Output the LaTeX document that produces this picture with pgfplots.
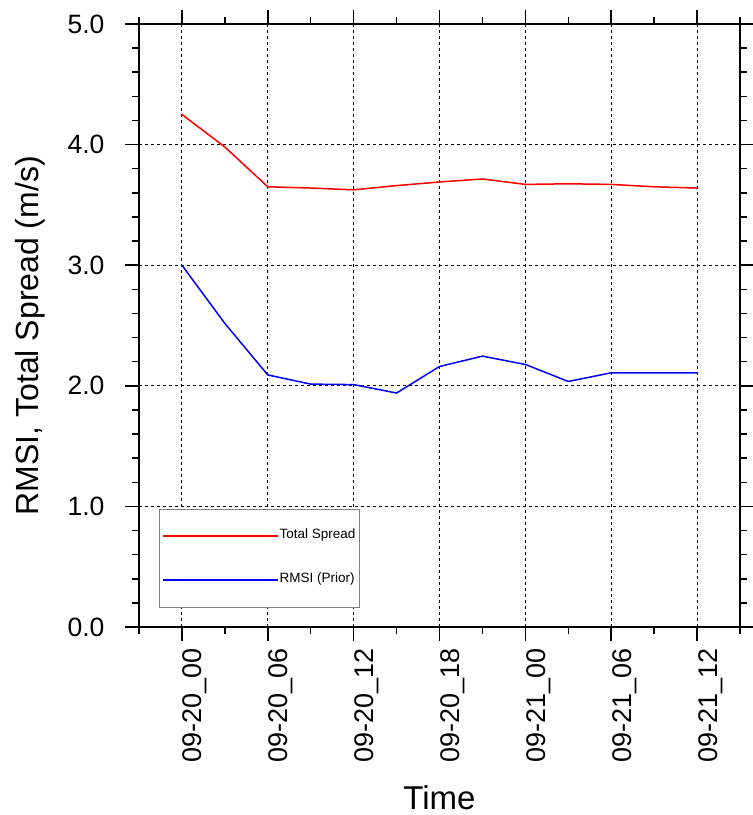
\documentclass[border=0pt]{standalone}
\usepackage{fontspec}
\setmainfont{Liberation Sans}
\usepackage{pgfplots}
\pgfplotsset{compat=1.18}
\begin{document}
\begin{tikzpicture}
\path[use as bounding box] (-139pt,-188pt) rectangle (614pt,627pt);
\begin{axis}[
  at={(0pt,0pt)}, anchor=south west,
  scale only axis, width=601pt, height=603pt,
  xmin=-3, xmax=39, ymin=0, ymax=5,
  xtick={0,6,...,36},
  xticklabels={09-20\_00,09-20\_06,09-20\_12,09-20\_18,09-21\_00,09-21\_06,09-21\_12},
  minor xtick={-3,3,9,15,21,27,33,39},
  ytick={0,1,...,5},
  minor y tick num=4,
  tick align=outside,
  major tick length=14pt, minor tick length=7pt,
  every tick/.style={line width=1.5pt, black},
  axis line style={line width=2pt},
  xmajorgrids, ymajorgrids,
  major grid style={dash pattern=on 3pt off 3pt, line width=0.9pt, black},
  /pgf/number format/assume math mode=true,
  yticklabel style={font=\fontsize{26.5}{30}\selectfont, xshift=-17pt, /pgf/number format/.cd, fixed, fixed zerofill, precision=1},
  xticklabel style={font=\fontsize{27}{30}\selectfont, rotate=90, anchor=north east, inner sep=1pt, xshift=-6pt},
  xlabel={Time},
  ylabel={RMSI, Total Spread (m/s)},
  xlabel style={font=\fontsize{33}{38}\selectfont, inner sep=0pt, at={(axis description cs:0.5,-0.302)}, anchor=base},
  ylabel style={font=\fontsize{32}{36}\selectfont, at={(axis description cs:-0.168,0.483)}, anchor=base},
  legend cell align=left,
  legend image code/.code={\draw[#1, line width=1.5pt] (0pt,0pt) -- (115pt,0pt);},
  legend style={at={(rel axis cs:0.0333,0.0332)}, anchor=south west, draw=gray,
    font=\fontsize{13.5}{15}\selectfont, inner xsep=3pt, inner ysep=20pt, row sep=30pt,
    nodes={inner sep=1pt, text height=9pt, text depth=3pt, anchor=west}},
]
\addplot[red, line width=1.5pt] coordinates {(0,4.25)(3,3.98)(6,3.65)(9,3.64)(12,3.625)(15,3.66)(18,3.69)(21,3.715)(24,3.67)(27,3.675)(30,3.67)(33,3.65)(36,3.64)};
\addlegendentry{Total Spread}
\addplot[blue, line width=1.5pt] coordinates {(0,3.0)(3,2.517)(6,2.09)(9,2.014)(12,2.01)(15,1.94)(18,2.16)(21,2.246)(24,2.177)(27,2.036)(30,2.108)(33,2.108)(36,2.108)};
\addlegendentry{RMSI (Prior)}
\end{axis}
\end{tikzpicture}
\end{document}
